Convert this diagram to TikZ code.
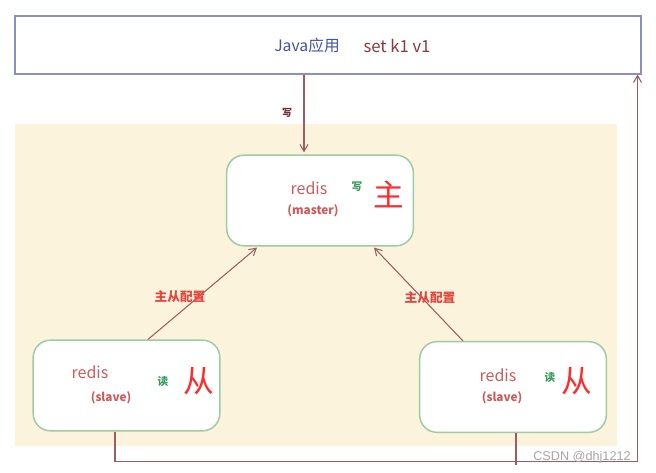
\documentclass[tikz,border=0pt]{standalone}
\usepackage{fontspec}
\setmainfont{Noto Sans CJK SC}
\newfontfamily\wmfont{Liberation Sans}
\usetikzlibrary{arrows.meta,calc}

\definecolor{cream}{HTML}{FCF3DC}
\definecolor{appblue}{HTML}{8A90C4}
\definecolor{boxgreen}{HTML}{9CCBA4}
\definecolor{wire}{HTML}{9E5C60}
\definecolor{javablue}{HTML}{4552A8}
\definecolor{cmdred}{HTML}{8C3A3E}
\definecolor{redisred}{HTML}{CF5A5A}
\definecolor{rolered}{HTML}{FF2A2A}
\definecolor{tagred}{HTML}{E2463F}
\definecolor{rwgreen}{HTML}{3C9C60}

\tikzset{
    redisbox/.style={draw=boxgreen, line width=1.1pt, rounded corners=13pt, fill=white,
        minimum width=140pt, minimum height=68pt},
    wireline/.style={draw=wire, line width=0.8pt},
    wirearrow/.style={wireline, -{Straight Barb[angle=60:6pt]}},
    rediswd/.style={text=redisred, font=\fontsize{12}{13}\selectfont},
    rolewd/.style={text=redisred, font=\bfseries\fontsize{8.8}{9}\selectfont},
    rwwd/.style={text=rwgreen, font=\bfseries\fontsize{8}{8}\selectfont},
    bigwd/.style={text=rolered, font=\fontsize{23}{24}\selectfont},
    tagwd/.style={text=tagred, font=\bfseries\fontsize{9.5}{10}\selectfont}
}

\begin{document}
\begin{tikzpicture}[x=0.75pt, y=-0.75pt]
    \useasboundingbox[fill=white] (0,0) rectangle (656,473);

    % background area
    \node[fill=cream, inner sep=0pt, minimum width=451.5pt, minimum height=241.5pt] (bg) at (316,285) {};

    % application
    \node[draw=appblue, line width=0.8pt, fill=white, minimum width=469.5pt, minimum height=43.5pt] (app) at (328,45) {};
    \node[text=javablue, font=\fontsize{11.8}{12}\selectfont] (java) at (307,46) {Java应用};
    \node[text=cmdred, font=\fontsize{12.5}{13}\selectfont] (cmd) at (397,46) {set k1 v1};

    % redis nodes
    \node[redisbox] (master) at (320,200.5) {};
    \node[redisbox] (slaveL) at (126.5,385.5) {};
    \node[redisbox] (slaveR) at (513,387) {};

    \node[rediswd] at (309,188) {redis};
    \node[rolewd] at (313,211) {(master)};
    \node[rwwd] at (357,187) {写};
    \node[bigwd] at (389,194) {主};

    \node[rediswd] at (90,372) {redis};
    \node[rolewd] at (111,398) {(slave)};
    \node[rwwd] at (163,381) {读};
    \node[bigwd] at (199,381) {从};

    \node[rediswd] at (498,375) {redis};
    \node[rolewd] at (502,398) {(slave)};
    \node[rwwd] at (550,377) {读};
    \node[bigwd] at (577,381) {从};

    % connectors
    \draw[wirearrow] ($(app.south)+(-24,0)$) -- ($(master.north)+(-16,-2)$);
    \node[text=cmdred!80!black, font=\bfseries\fontsize{7.5}{8}\selectfont] at (287,113) {写};

    \draw[wirearrow] ($(slaveL.north)+(21.5,0)$) -- ($(master.south)+(-63,1)$);
    \draw[wirearrow] ($(slaveR.north)+(-50,0)$) -- ($(master.south)+(54,1)$);
    \node[tagwd] at (180,297) {主从配置};
    \node[tagwd] at (430,298) {主从配置};

    \draw[wirearrow] ($(slaveL.south)+(-11.5,0)$) -- ++(0,30) -| ($(app.south east)+(-4,0)$);
    \draw[wireline] ($(slaveR.south)+(3,0)$) -- ++(0,32);

    \node[text=gray!70, font=\wmfont\fontsize{9.5}{10}\selectfont] (mark) at (582,457) {CSDN @dhj1212};
\end{tikzpicture}
\end{document}
